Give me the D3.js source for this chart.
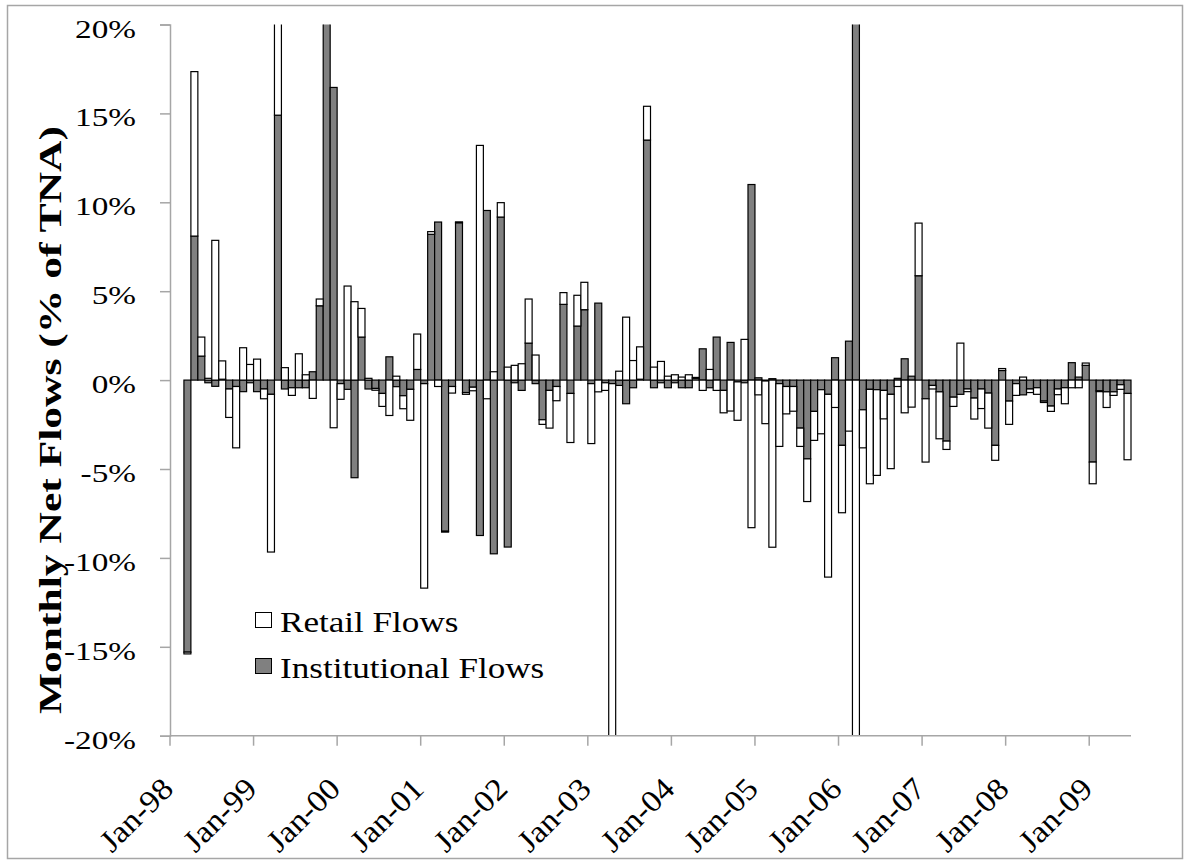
<!DOCTYPE html>
<html lang="en">

<head>
    <meta charset="UTF-8">
    <title>Monthly Net Flows</title>
    <style>
        body {
            margin: 0;
            background: #fff;
        }

        text {
            font-family: "Liberation Serif", "Times New Roman", serif;
            fill: #000;
        }
    </style>
    <script src="https://d3js.org/d3.v7.min.js"></script>
</head>

<body>
    <div id="chart"></div>

    <script>
        // months Jan-98 .. Jun-09 (138 bars, first two empty)
        const months = d3.timeMonth.range(new Date(1998, 0, 1), new Date(2009, 6, 1));

        // institutional flows, % of TNA (clipped bars estimated)
        const institutional = [
            null, null, -15.3, 8.1, 1.35, -0.15, -0.35, 0.05, -0.5, -0.36, -0.65, -0.15,
            -0.65, -0.5, -0.8, 14.9, -0.5, -0.43, -0.43, -0.43, 0.47, 4.18, 22.0, 16.46,
            -0.2, -0.52, -5.49, 2.42, -0.5, -0.47, -0.75, 1.31, -0.37, -0.88, -0.52, 0.6,
            -0.2, 8.2, 8.89, -8.5, -0.36, 8.85, -0.7, -0.4, -8.74, 9.54, -9.77, 9.17,
            -9.39, -0.15, -0.58, 2.08, -0.2, -2.23, -0.58, -0.36, 4.26, -0.75, 3.04, 3.96,
            -0.2, 4.33, -0.15, -0.2, -0.3, -1.33, -0.43, 0.05, 13.5, -0.43, -0.15, -0.43,
            -0.15, -0.43, -0.43, 0.1, 1.76, -0.43, 2.42, -0.58, 2.12, -0.1, -0.15, 11.0,
            0.13, -0.05, 0.08, -0.2, -0.36, -0.36, -2.7, -4.43, -1.76, -0.54, -0.8, 1.26,
            -3.67, 2.19, 22.0, -1.67, -0.52, -0.54, -0.58, -0.8, 0.1, 1.2, 0.22, 5.87,
            -1.05, -0.3, -0.66, -3.43, -0.96, -0.8, -0.5, -1.01, -0.5, -0.73, -3.67, 0.54,
            -1.18, -0.2, -0.83, -0.5, -0.43, -1.18, -1.46, -0.5, -0.43, 0.98, 0.17, 0.83,
            -4.61, -0.6, -0.66, -0.66, -0.26, -0.75
        ];

        // retail flows, % of TNA
        const retail = [
            null, null, -0.1, 9.25, 1.07, 0.1, 7.86, 1.03, -1.6, -3.45, 1.82, 0.88,
            1.18, -0.55, -8.87, 6.0, 0.7, -0.43, 1.48, 0.3, -1.03, 0.38, 0.5, -2.68,
            -0.88, 5.29, 4.41, 1.61, 0.1, -0.1, -0.73, -1.99, 0.22, -0.73, -1.74, 1.99,
            -11.5, 0.15, -0.36, -0.05, -0.37, 0.05, -0.1, -0.2, 13.2, -1.05, 0.47, 0.81,
            0.73, 0.83, 0.92, 2.48, 1.41, -0.26, -2.12, -0.8, 0.66, -2.76, 1.73, 1.54,
            -3.37, -0.66, -0.43, -22.0, 0.5, 3.54, 1.1, 1.82, 1.9, 0.73, 1.05, 0.22,
            0.3, 0.17, 0.3, 0.05, -0.58, 0.6, -0.58, -1.26, -1.74, -2.16, 2.29, -8.3,
            -0.83, -2.4, -9.4, -3.53, -1.54, -1.39, -1.03, -2.4, -1.63, -2.48, -10.28, -1.54,
            -3.79, -2.87, -22.0, -2.14, -5.31, -4.82, -1.6, -4.18, -0.36, -1.84, -1.52, 2.96,
            -3.56, -0.2, -2.64, -0.47, -0.52, 2.08, -0.15, -1.18, -1.1, -1.97, -0.84, 0.11,
            -1.31, -0.66, 0.17, -0.2, -0.37, -0.08, -0.3, -0.32, -0.9, -0.43, -0.43, 0.13,
            -1.22, -0.05, -0.88, -0.2, -0.26, -3.73
        ];

        const yTicks = [20, 15, 10, 5, 0, -5, -10, -15, -20];
        const seriesNames = ["Retail Flows", "Institutional Flows"];

        const W = 1189, H = 864;
        const plot = { left: 170, right: 1131, top: 24.5, bottom: 735.7 };

        // widen glyphs a bit, the source font runs wider than Liberation Serif
        function stretch(sel, k) {
            sel.each(function () {
                const len = this.getComputedTextLength();
                d3.select(this)
                    .attr("textLength", len * k)
                    .attr("lengthAdjust", "spacingAndGlyphs");
            });
        }

        const svg = d3.select("#chart").append("svg")
            .attr("width", W)
            .attr("height", H);

        // chart border
        svg.append("rect")
            .attr("x", 7.5).attr("y", 5.5)
            .attr("width", 1175).attr("height", 853)
            .attr("fill", "none")
            .attr("stroke", "#a6a6a6")
            .attr("stroke-width", 1.5);

        const x = d3.scaleBand()
            .domain(months.map((d, i) => i))
            .range([plot.left, plot.right])
            .padding(0);

        const y = d3.scaleLinear()
            .domain([-20, 20])
            .range([plot.bottom, plot.top]);

        // stack: institutional at the bottom, retail on top (diverging like Excel)
        const rows = months.map((d, i) => ({
            i: i,
            inst: institutional[i] == null ? 0 : institutional[i],
            ret: retail[i] == null ? 0 : retail[i],
            empty: institutional[i] == null
        }));
        const stack = d3.stack()
            .keys(["inst", "ret"])
            .offset(d3.stackOffsetDiverging);
        const layers = stack(rows);

        svg.append("clipPath").attr("id", "clip")
            .append("rect")
            .attr("x", plot.left).attr("y", plot.top)
            .attr("width", plot.right - plot.left + 2)
            .attr("height", plot.bottom - plot.top);

        const fills = { inst: "#808080", ret: "#ffffff" };

        const gBars = svg.append("g").attr("clip-path", "url(#clip)");
        layers.forEach(layer => {
            gBars.append("g")
                .selectAll("rect")
                .data(layer.filter(d => !d.data.empty))
                .join("rect")
                .attr("x", d => x(d.data.i))
                .attr("width", x.bandwidth())
                .attr("y", d => y(Math.max(d[0], d[1])))
                .attr("height", d => Math.abs(y(d[0]) - y(d[1])))
                .attr("fill", fills[layer.key])
                .attr("stroke", "#000")
                .attr("stroke-width", 1.2);
        });

        // y axis
        const yAxis = svg.append("g")
            .attr("transform", `translate(${plot.left},0)`)
            .call(d3.axisLeft(y).tickValues(yTicks).tickSize(10).tickFormat(d => d + "%"));
        yAxis.select(".domain").attr("stroke", "#a6a6a6").attr("stroke-width", 1.5);
        yAxis.selectAll(".tick line").attr("stroke", "#a6a6a6").attr("stroke-width", 1.5);
        yAxis.selectAll(".tick text")
            .attr("x", -34)
            .attr("dy", "0.5em")
            .style("font-size", "25px")
            .style("font-family", "Liberation Serif")
            .call(stretch, 1.33);

        // x axis at bottom
        const janIdx = months.map((d, i) => i).filter(i => months[i].getMonth() === 0);
        const xAxisG = svg.append("g");
        xAxisG.append("line")
            .attr("x1", plot.left).attr("x2", plot.right)
            .attr("y1", plot.bottom).attr("y2", plot.bottom)
            .attr("stroke", "#a6a6a6").attr("stroke-width", 1.5);
        xAxisG.selectAll(".xt")
            .data(janIdx)
            .join("line")
            .attr("x1", d => x(d)).attr("x2", d => x(d))
            .attr("y1", plot.bottom).attr("y2", plot.bottom + 10)
            .attr("stroke", "#a6a6a6").attr("stroke-width", 1.5);
        xAxisG.selectAll(".xl")
            .data(janIdx)
            .join("text")
            .attr("transform", d => `translate(${x(d) + 5},${plot.bottom + 55}) rotate(-45)`)
            .attr("text-anchor", "end")
            .style("font-size", "31px")
            .text(d => d3.timeFormat("%b-%y")(months[d]))
            .call(stretch, 1.08);

        // y title
        svg.append("text")
            .attr("transform", "translate(61,420) rotate(-90)")
            .attr("text-anchor", "middle")
            .attr("textLength", 588)
            .attr("lengthAdjust", "spacingAndGlyphs")
            .style("font-size", "32px")
            .style("font-weight", "bold")
            .text("Monthly Net Flows (% of TNA)");

        // legend
        const legend = svg.append("g");
        seriesNames.forEach((name, i) => {
            const ly = 612 + i * 46;
            legend.append("rect")
                .attr("x", 255.5).attr("y", ly + 0.5)
                .attr("width", 16).attr("height", 15)
                .attr("fill", i === 0 ? fills.ret : fills.inst)
                .attr("stroke", "#000")
                .attr("stroke-width", 1);
            legend.append("text")
                .attr("x", 280)
                .attr("y", ly + 20)
                .style("font-size", "30px")
                .text(name)
                .call(stretch, 1.17);
        });
    </script>
</body>

</html>
